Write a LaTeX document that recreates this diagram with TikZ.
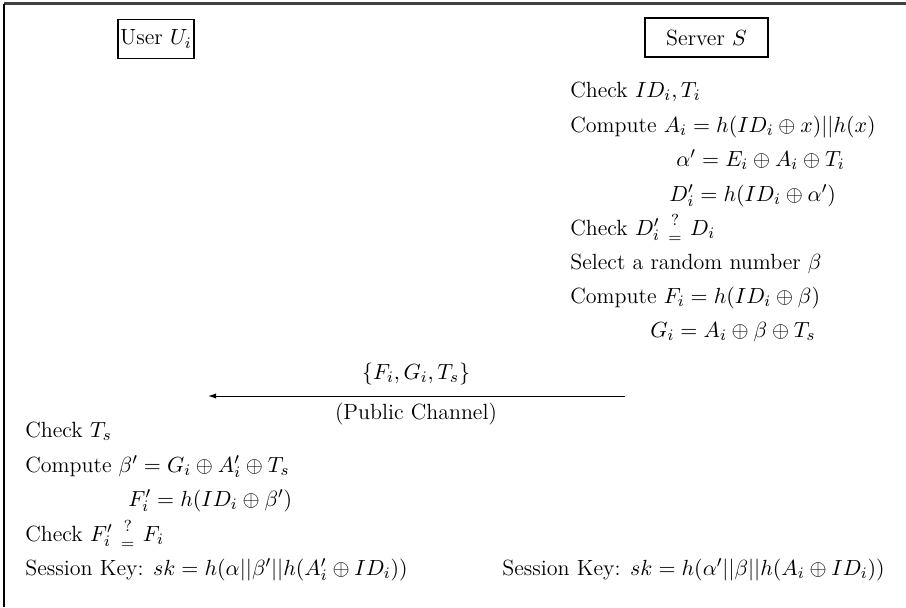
\documentclass[tikz,border=0pt]{standalone}
\usetikzlibrary{arrows.meta}
\newcommand{\qeq}{\mathrel{{?}\atop{=}}}
\begin{document}
\begin{tikzpicture}[x=0.5pt,y=-0.5pt,
  every node/.style={font=\fontsize{11}{13}\selectfont},
  txt/.style={anchor=base west,inner sep=0pt},
  party/.style={draw,line width=0.6pt,inner sep=0pt,minimum height=19.5pt},
  frame/.style={line width=1.1pt,draw=black!75},
  msg/.style={line width=0.5pt,-{Latex[length=4pt,width=2.6pt]}}]
\useasboundingbox (0,0) rectangle (906,607);
\draw[frame] (4,3.5) -- (906,3.5);
\draw[frame,draw=black] (4,3.5) -- (4,607);
% parties
\node[party,minimum width=38pt] (user) at (156,39) {User $U_i$};
\node[party,minimum width=61.5pt] (server) at (706.5,37.5) {Server $S$};
% server side
\node[txt] (s1) at (570,97) {Check $ID_i, T_i$};
\node[txt] (s2) at (570,132) {Compute $A_i = h(ID_i\oplus x)||h(x)$};
\node[txt] (s3) at (676,166) {$\alpha' = E_i\oplus A_i\oplus T_i$};
\node[txt] (s4) at (669,201) {$D_i' = h(ID_i\oplus \alpha')$};
\node[txt] (s5) at (570,235) {Check $D_i' \qeq D_i$};
\node[txt] (s6) at (570,269) {Select a random number $\beta$};
\node[txt] (s7) at (570,303) {Compute $F_i = h(ID_i\oplus \beta)$};
\node[txt] (s8) at (650,337) {$G_i = A_i\oplus \beta\oplus T_s$};
% message
\coordinate (mfrom) at (625,396);
\coordinate (mto) at (208,396);
\draw[msg] (mfrom) -- (mto);
\node[anchor=base,inner sep=0pt] (m1) at (416,379) {$\{F_i, G_i, T_s\}$};
\node[anchor=base,inner sep=0pt] (m2) at (416,419) {(Public Channel)};
% user side
\node[txt] (u1) at (25,437) {Check $T_s$};
\node[txt] (u2) at (25,472) {Compute $\beta' = G_i\oplus A_i'\oplus T_s$};
\node[txt] (u3) at (128,506) {$F_i' = h(ID_i\oplus \beta')$};
\node[txt] (u4) at (25,541) {Check $F_i' \qeq F_i$};
\node[txt] (u5) at (25,575) {Session Key: $sk = h(\alpha||\beta'||h(A_i'\oplus ID_i))$};
\node[txt] (s9) at (502,575) {Session Key: $sk = h(\alpha'||\beta||h(A_i\oplus ID_i))$};
\end{tikzpicture}
\end{document}
